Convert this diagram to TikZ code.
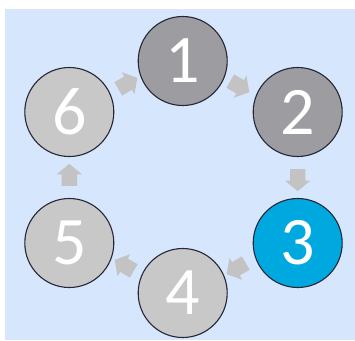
\documentclass[tikz,border=0pt]{standalone}
\usepackage{fontspec}
\setmainfont{Carlito}
\usetikzlibrary{shapes.arrows}
\definecolor{bgblue}{HTML}{D6E6FD}
\definecolor{darkgrey}{HTML}{9D9DA1}
\definecolor{lightgrey}{HTML}{C8C8C8}
\definecolor{stepblue}{HTML}{00A8E0}
\definecolor{rimcol}{HTML}{262636}
\definecolor{arrowgrey}{HTML}{C3C3C3}
\tikzset{
  stepcircle/.style={circle, draw=rimcol, line width=1.1pt, minimum size=89pt, inner sep=0pt,
     text=white, font=\fontsize{68}{68}\selectfont},
  flowarrow/.style={single arrow, fill=arrowgrey, draw=none, inner sep=7.5pt, minimum height=22pt,
     single arrow head extend=5pt, single arrow tip angle=100, anchor=center}
}
\begin{document}
\begin{tikzpicture}[x=1pt,y=-1pt]
\useasboundingbox (0,0) rectangle (355,340);
\fill[bgblue] (5,9) rectangle (355,340);
\node[stepcircle, fill=darkgrey] (n1) at (182.7,61) {1};
\node[stepcircle, fill=darkgrey] (n2) at (297.7,112) {2};
\node[stepcircle, fill=stepblue] (n3) at (297.7,243) {3};
\node[stepcircle, fill=lightgrey] (n4) at (182.7,293) {4};
\node[stepcircle, fill=lightgrey] (n5) at (69.3,243) {5};
\node[stepcircle, fill=lightgrey] (n6) at (69.3,112) {6};
\node[flowarrow, rotate=-30] (a12) at (237,85) {};
\node[flowarrow, rotate=-90] (a23) at (297.7,177) {};
\node[flowarrow, rotate=-150] (a34) at (239,267) {};
\node[flowarrow, rotate=150] (a45) at (127,267) {};
\node[flowarrow, rotate=90] (a56) at (69.3,178) {};
\node[flowarrow, rotate=30] (a61) at (125,85) {};
\end{tikzpicture}
\end{document}
